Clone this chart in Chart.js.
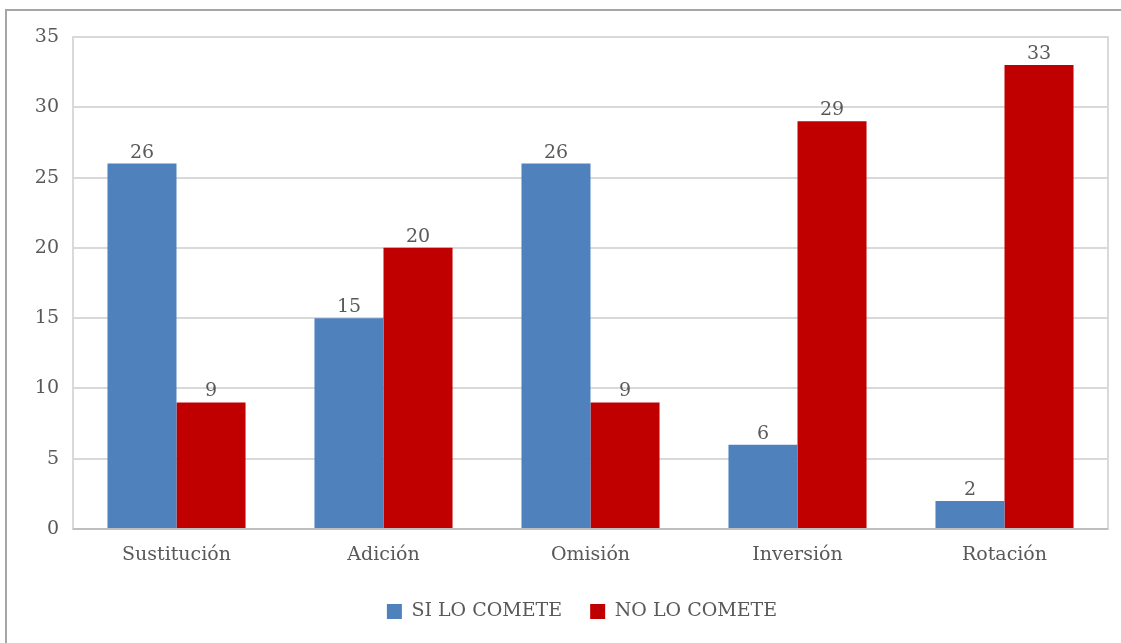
<!DOCTYPE html>
<html>
<head>
<meta charset="utf-8">
<script src="https://cdn.jsdelivr.net/npm/chart.js@4.4.0/dist/chart.umd.min.js"></script>
<style>
  html, body { margin: 0; padding: 0; background: #ffffff; overflow: hidden; }
  #frame { position: absolute; left: 5px; top: 9px; width: 2000px; height: 2000px; border: 2px solid #a6a6a6; }
  #wrap { position: absolute; left: 0; top: 0; width: 1121px; height: 643px; }
</style>
</head>
<body>
<div id="frame"></div>
<div id="wrap"><canvas id="c" width="1121" height="643"></canvas></div>
<script>
const categories = ['Sustitución', 'Adición', 'Omisión', 'Inversión', 'Rotación'];
const siLoComete = [26, 15, 26, 6, 2];
const noLoComete = [9, 20, 9, 29, 33];
const seriesNames = ['SI LO COMETE', 'NO LO COMETE'];
const yTicks = [0, 5, 10, 15, 20, 25, 30, 35];

const FONT = 'DejaVu Serif';
const TEXT = '#595959';
const FS = 19;

const valueLabels = {
  id: 'valueLabels',
  afterDatasetsDraw(chart) {
    const ctx = chart.ctx;
    ctx.save();
    ctx.font = FS + 'px "' + FONT + '"';
    ctx.fillStyle = TEXT;
    ctx.textAlign = 'center';
    ctx.textBaseline = 'alphabetic';
    chart.data.datasets.forEach((ds, i) => {
      const meta = chart.getDatasetMeta(i);
      meta.data.forEach((bar, j) => {
        ctx.fillText(String(ds.data[j]), bar.x, bar.y - 6);
      });
    });
    ctx.restore();
  }
};

const plotBox = {
  id: 'plotBox',
  afterLayout(chart) {
    if (chart.legend) {
      chart.legend.left = 28;
      chart.legend.right = 1136;
    }
  },
  beforeDatasetsDraw(chart) {
    const a = chart.chartArea;
    const ctx = chart.ctx;
    ctx.save();
    ctx.strokeStyle = '#d9d9d9';
    ctx.lineWidth = 2;
    ctx.strokeRect(a.left, a.top, a.right - a.left, a.bottom - a.top);
    ctx.restore();
  },
  afterDatasetsDraw(chart) {
    const a = chart.chartArea;
    const ctx = chart.ctx;
    ctx.save();
    ctx.strokeStyle = '#bfbfbf';
    ctx.lineWidth = 2;
    ctx.beginPath();
    ctx.moveTo(a.left, a.bottom);
    ctx.lineTo(a.right, a.bottom);
    ctx.stroke();
    ctx.restore();
  }
};

new Chart(document.getElementById('c'), {
  type: 'bar',
  data: {
    labels: categories,
    datasets: [
      { label: seriesNames[0], data: siLoComete, backgroundColor: '#4f81bd' },
      { label: seriesNames[1], data: noLoComete, backgroundColor: '#c00000' }
    ]
  },
  options: {
    responsive: false,
    animation: false,
    devicePixelRatio: 1,
    layout: { padding: { left: 0, right: 13, top: 37, bottom: 12 } },
    datasets: { bar: { categoryPercentage: 0.667, barPercentage: 1.0 } },
    plugins: {
      tooltip: { enabled: false },
      legend: {
        position: 'bottom',
        labels: {
          font: { family: FONT, size: FS },
          color: TEXT,
          boxWidth: 15,
          boxHeight: 15,
          padding: 28
        }
      }
    },
    scales: {
      x: {
        grid: { display: false, drawTicks: false },
        border: { display: false },
        ticks: { font: { family: FONT, size: FS }, color: TEXT, padding: 15 },
        afterFit(s) { s.height = 45; }
      },
      y: {
        min: 0, max: 35,
        afterBuildTicks(s) { s.ticks = yTicks.map(v => ({ value: v })); },
        grid: { color: '#d9d9d9', lineWidth: 2, drawTicks: false },
        border: { display: false },
        ticks: { font: { family: FONT, size: FS }, color: TEXT, padding: 14 },
        afterFit(s) { s.width = 73; }
      }
    }
  },
  plugins: [plotBox, valueLabels]
});
</script>
</body>
</html>
